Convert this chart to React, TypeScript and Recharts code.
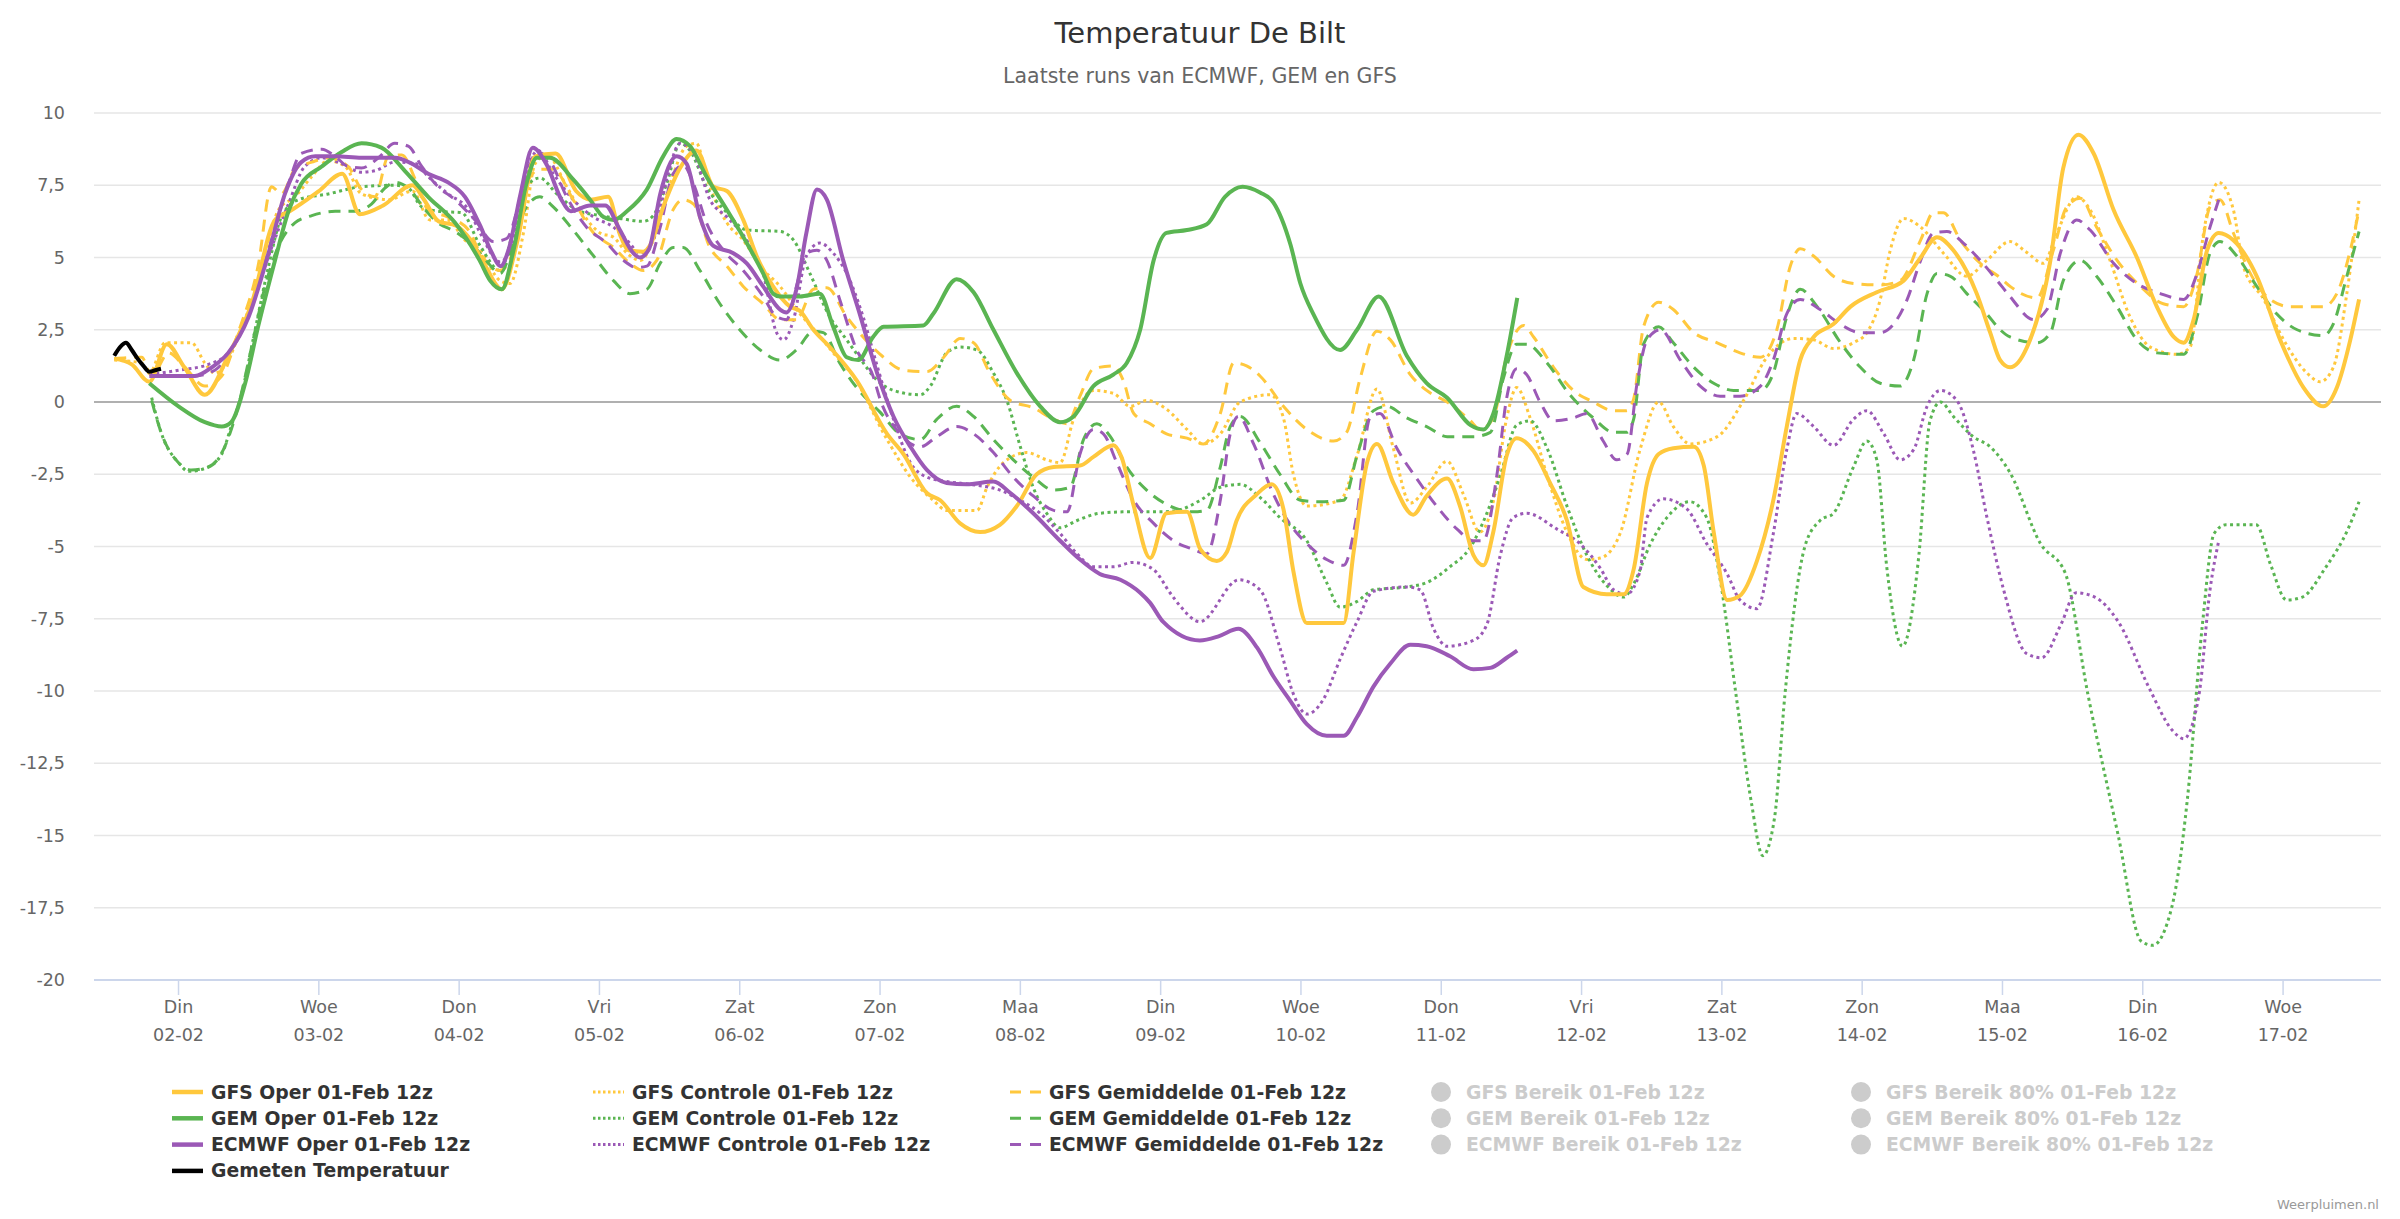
import React from 'react'
import { LineChart, Line, XAxis, YAxis, CartesianGrid, ReferenceLine } from 'recharts'

// uren vanaf 01-02 13:00, waarde in graden
type Punt = [number, number]

const DAGEN = ['Din', 'Woe', 'Don', 'Vri', 'Zat', 'Zon', 'Maa', 'Din', 'Woe', 'Don', 'Vri', 'Zat', 'Zon', 'Maa', 'Din', 'Woe']
const DATUMS = ['02-02', '03-02', '04-02', '05-02', '06-02', '07-02', '08-02', '09-02', '10-02', '11-02', '12-02', '13-02', '14-02', '15-02', '16-02', '17-02']
const TICK_UREN = [11, 35, 59, 83, 107, 131, 155, 179, 203, 227, 251, 275, 299, 323, 347, 371]
const Y_TICKS = [-20, -17.5, -15, -12.5, -10, -7.5, -5, -2.5, 0, 2.5, 5, 7.5, 10]

const GEMETEN: Punt[] = [[0, 1.6], [1, 1.9], [2, 2.05], [3, 1.8], [4, 1.5], [5, 1.25], [6, 1.05], [7, 1.1], [8, 1.15]]

const GFS_OPER: Punt[] = [
  [0, 1.5], [3, 1.3], [6, 0.7], [9, 2.0], [12, 1.2], [15.5, 0.25], [19.5, 1.6], [23.5, 3.4], [27.5, 6.3], [30, 6.6],
  [35, 7.3], [39, 7.9], [42, 6.5], [46, 6.8], [51, 7.5], [53, 7.0], [55.5, 6.25], [58.5, 6.1], [61, 5.6], [63.5, 4.7],
  [66.3, 3.9], [69, 5.6], [72, 8.5], [75.5, 8.6], [79, 7.3], [81.5, 7.0], [84.5, 7.1], [86.5, 5.8], [88, 5.25], [90.5, 5.2],
  [91.6, 5.4], [94, 6.8], [96.8, 8.1], [99.6, 8.7], [102.5, 7.45], [104.8, 7.3], [107.6, 6.3], [110, 5.0], [112.7, 4.0],
  [115.6, 3.3], [117.3, 3.15], [119.6, 2.5], [122.4, 1.9], [127, 0.75], [132.2, -1.1], [135, -1.8], [139, -3.15],
  [141.3, -3.4], [144.7, -4.2], [148.1, -4.5], [151.5, -4.25], [154.4, -3.6], [157.8, -2.5], [160.7, -2.25], [165.2, -2.2],
  [167.5, -1.9], [170.9, -1.5], [172.3, -1.9], [174.4, -3.6], [177.2, -5.4], [180, -3.85], [183.5, -3.8], [185.8, -5.1],
  [188.6, -5.5], [190.3, -5.2], [192, -4.1], [195.4, -3.2], [198, -2.85], [200, -3.7], [201.7, -5.85], [204, -7.65],
  [210.3, -7.65], [212, -5.2], [214.3, -2.1], [216, -1.45], [218.8, -2.8], [222.2, -3.9], [224.5, -3.25], [228, -2.65],
  [230.2, -3.6], [232.5, -5.3], [234.2, -5.65], [235.9, -4.5], [238.2, -1.85], [239.9, -1.25], [242.8, -1.7], [245.6, -2.8],
  [248.5, -4.1], [251.3, -6.4], [255.3, -6.65], [258.2, -6.65], [259.9, -5.8], [262.2, -2.8], [264.2, -1.8], [266.7, -1.6],
  [270.2, -1.55], [271.9, -2.2], [273.6, -4.5], [275.9, -6.85], [278.1, -6.7], [281, -5.5], [283.8, -3.4], [286.1, -0.85],
  [288.4, 1.45], [290.7, 2.25], [294.1, 2.7], [297, 3.3], [301.5, 3.8], [306.1, 4.2], [309, 5.0], [311.8, 5.7], [314.6, 5.25],
  [318.6, 3.75], [320.9, 2.4], [322.6, 1.45], [324.3, 1.2], [327.2, 1.9], [331.2, 4.9], [333.4, 8.1], [336, 9.25],
  [338.6, 8.6], [342, 6.65], [346, 5.0], [349.4, 3.3], [352.3, 2.25], [354, 2.05], [355.7, 2.85], [358, 5.25], [360, 5.85],
  [362.5, 5.6], [366.5, 4.35], [370.5, 2.15], [374.5, 0.5], [377.9, -0.15], [380.2, 0.5], [382.5, 2.15], [384, 3.55],
]

const GEM_OPER: Punt[] = [
  [6, 0.65], [11, -0.15], [15.5, -0.7], [18.4, -0.85], [20, -0.7], [22.4, 0.65], [24.6, 2.6], [27.5, 4.9], [29.8, 6.6],
  [32, 7.55], [35.5, 8.15], [38.9, 8.65], [42.3, 8.95], [45.7, 8.8], [49.7, 8.0], [53.7, 7.1], [58.3, 6.2], [62.5, 4.9],
  [64.3, 4.2], [66.3, 3.9], [68.3, 5.25], [70.5, 7.55], [72.3, 8.45], [74.5, 8.45], [78.5, 7.7], [81.4, 7.0], [83.7, 6.4],
  [85.4, 6.3], [87.7, 6.6], [91.1, 7.35], [93.9, 8.5], [96.2, 9.1], [98.5, 8.85], [101.3, 7.8], [104.8, 6.65], [108.2, 5.5],
  [111, 4.45], [112.7, 3.75], [113.9, 3.65], [117.3, 3.65], [120.7, 3.75], [123, 2.6], [125.3, 1.55], [127.3, 1.45],
  [129.8, 2.25], [131.6, 2.6], [138.4, 2.65], [140.1, 3.05], [144.1, 4.25], [147, 3.8], [150.4, 2.5], [154.4, 1.0],
  [158.4, -0.15], [161.8, -0.7], [164.1, -0.5], [167.5, 0.55], [170.9, 0.95], [173.2, 1.35], [175.5, 2.5], [177.8, 4.9],
  [180, 5.85], [183.5, 5.95], [186.9, 6.15], [190, 7.1], [193, 7.45], [196, 7.25], [198.3, 6.9], [201.2, 5.45], [202.9, 4.1],
  [205.1, 3.05], [209.7, 1.8], [212.6, 2.5], [216.3, 3.65], [221.1, 1.6], [224.5, 0.65], [228, 0.15], [232, -0.8],
  [234.2, -0.95], [235.9, -0.4], [238.2, 1.6], [240, 3.6],
]

const ECMWF_OPER: Punt[] = [
  [6, 0.9], [13.8, 0.9], [16.7, 1.2], [19.5, 1.7], [23, 2.95], [26.4, 5.15], [29.2, 7.2], [32, 8.3], [34.4, 8.5], [37.8, 8.5],
  [42.3, 8.45], [48, 8.45], [50.9, 8.25], [53.7, 7.9], [57.1, 7.6], [60, 7.1], [62.6, 6.1], [64.5, 5.2], [66.1, 4.7],
  [67.5, 5.3], [69.5, 7.2], [71.6, 8.8], [74, 8.2], [76.5, 7.0], [78.1, 6.6], [81.4, 6.8], [84, 6.8], [86.5, 5.95],
  [88.8, 5.15], [89.9, 5.0], [91.5, 5.3], [93.4, 7.2], [96.2, 8.5], [97.9, 8.25], [100.2, 6.4], [102.5, 5.4], [105.9, 5.15],
  [108.2, 4.8], [111, 4.0], [113.9, 3.2], [115, 3.1], [116.7, 3.9], [118.4, 5.85], [120.2, 7.35], [121.9, 7.0], [124.7, 4.9],
  [127.6, 3.0], [130.5, 1.0], [133.3, -0.5], [136.2, -1.55], [139, -2.35], [142.4, -2.8], [145.8, -2.85], [150.4, -2.75],
  [153.3, -3.15], [157.2, -3.85], [161.8, -4.8], [165.2, -5.45], [168.6, -5.95], [172.1, -6.15], [175.5, -6.6],
  [177.2, -6.95], [179.4, -7.6], [185.7, -8.25], [189, -8.1], [192.3, -7.85], [195.5, -8.5], [198.3, -9.5], [201.2, -10.35],
  [204, -11.15], [207.4, -11.55], [210.3, -11.55], [212.6, -10.9], [215.4, -9.85], [218.3, -9.05], [221.7, -8.4],
  [224.5, -8.45], [228.5, -8.8], [232.5, -9.25], [235.4, -9.2], [238.2, -8.85], [240, -8.6],
]

const GFS_CONTROLE: Punt[] = [
  [0, 1.45], [4.7, 1.35], [6, 1.0], [8.7, 2.05], [13.2, 2.05], [15.5, 1.35], [17.2, 1.0], [19.5, 1.45], [21.8, 2.6], [24, 3.75],
  [26.4, 5.6], [28.1, 6.65], [30.9, 7.1], [33.8, 7.8], [36.6, 8.35], [39.5, 8.15], [42.3, 7.2], [47, 7.0], [51, 7.3], [54, 6.3],
  [57, 6.3], [60, 5.6], [62.6, 5.25], [66, 4.2], [67.7, 4.1], [70, 5.85], [72, 8.25], [74, 8.55], [77.4, 7.45], [79.7, 6.65],
  [83.1, 5.85], [85.4, 5.7], [87.7, 5.15], [90, 4.9], [92.2, 5.6], [95.1, 7.55], [97.9, 8.85], [99.6, 8.95], [101.3, 7.8],
  [104.8, 6.2], [107.6, 5.6], [110.5, 4.7], [113.9, 4.0], [117.3, 3.05], [120.2, 2.4], [123, 1.7], [126.4, 0.9],
  [132.2, -1.3], [136.2, -2.6], [140.1, -3.4], [142.4, -3.75], [147.6, -3.75], [149.3, -2.95], [152.1, -2.1], [156.1, -1.75],
  [159.5, -2.0], [161.8, -2.1], [164.1, -0.6], [167.5, 0.4], [170.9, 0.3], [173.8, -0.15], [176.6, 0.05], [180, -0.25],
  [183.5, -0.95], [186.3, -1.45], [189.2, -1.1], [192.6, 0.0], [197.7, 0.25], [200, -0.55], [201.7, -2.5], [204, -3.6],
  [209.7, -3.4], [212.6, -1.85], [216, 0.45], [218.8, -1.6], [221.7, -3.5], [224.5, -2.95], [228, -2.05], [230.8, -3.2],
  [233.6, -4.5], [235.9, -3.45], [238.2, -0.55], [239.9, 0.5], [242.2, -0.55], [245.1, -2.55], [248.5, -4.5], [251.9, -5.45],
  [254.2, -5.4], [257.6, -4.55], [261, -1.65], [264.2, 0.0], [266.7, -0.85], [269.6, -1.45], [274.2, -1.2], [278.7, 0.05],
  [282.7, 1.55], [287.3, 2.2], [290.7, 2.15], [294.1, 1.85], [297.5, 2.05], [299.8, 2.4], [302.1, 3.55], [303.8, 5.25],
  [306.1, 6.35], [309, 6.05], [312.9, 5.15], [316.9, 4.35], [320.3, 4.9], [324.3, 5.55], [327, 5.2], [330, 4.8], [332.3, 5.85],
  [335.7, 7.1], [338, 6.65], [341.4, 4.9], [344.8, 2.95], [348.3, 1.9], [352.8, 1.65], [355.1, 1.9], [357.4, 5.85], [360, 7.6],
  [362.5, 6.65], [364.2, 4.7], [367.7, 3.55], [371.1, 2.15], [375.1, 1.0], [377.3, 0.7], [379.6, 1.2], [381.9, 3.75], [384, 7.0],
]

const GEM_CONTROLE: Punt[] = [
  [6.4, 0.15], [8.1, -1.1], [11, -2.1], [12.7, -2.4], [15.5, -2.3], [18.4, -1.8], [20, -0.85], [21.8, 0.3], [24, 2.4],
  [26.4, 4.7], [28.6, 6.4], [31.5, 7.0], [36.6, 7.2], [42.3, 7.45], [48, 7.5], [50.3, 7.4], [52.6, 6.75], [55.4, 6.6],
  [59.4, 6.55], [62.6, 5.4], [66, 4.55], [68.3, 5.95], [70.5, 7.45], [72.8, 7.75], [75.7, 7.2], [79.1, 6.65], [83.1, 6.45],
  [86.5, 6.35], [90.5, 6.25], [92.2, 6.45], [94.5, 7.55], [96.8, 8.95], [98.5, 8.7], [101.3, 7.45], [104.8, 6.55], [108.2, 5.95],
  [113.9, 5.9], [116.2, 5.6], [119, 4.45], [122.4, 2.95], [125.3, 2.15], [127.6, 1.5], [130.5, 0.75], [133.3, 0.4],
  [137.9, 0.25], [139.6, 0.55], [142.4, 1.7], [144.7, 1.9], [147.6, 1.8], [150.4, 1.0], [152.7, 0.05], [155, -1.55],
  [157.2, -2.95], [159.5, -3.85], [161.8, -4.35], [164.7, -4.1], [168.6, -3.85], [173.2, -3.8], [178.9, -3.8], [181.8, -3.75],
  [185.8, -3.4], [189.2, -2.95], [192.6, -2.85], [196, -3.3], [199.4, -4.0], [204, -4.8], [207.4, -6.25], [209.7, -7.1],
  [212.6, -6.9], [215.4, -6.5], [221.1, -6.4], [224.5, -6.25], [228.5, -5.7], [231.9, -5.05], [234.8, -3.85], [237.1, -2.55],
  [239.9, -0.8], [242.2, -0.65], [245.1, -1.6], [248.5, -3.6], [251.9, -5.3], [255.3, -6.35], [258.2, -6.75], [259.9, -6.3],
  [262.8, -4.9], [265.6, -4.0], [269.5, -3.45], [272.4, -4.0], [274.8, -6.25], [277.4, -10.1], [280, -13.8], [282, -15.7],
  [284, -14.4], [285.8, -10.1], [289.2, -5.0], [291.8, -4.1], [294.1, -3.85], [297.5, -2.25], [299.8, -1.35], [301.5, -2.0],
  [303.2, -5.7], [305.9, -8.45], [308.7, -5.3], [310.6, -0.65], [312.4, 0.0], [314.6, -0.5], [318, -1.2], [320.9, -1.55],
  [324.3, -2.45], [329.5, -4.9], [333.7, -5.9], [337.6, -10.1], [342.8, -15.0], [346.7, -18.65], [348.7, -18.8],
  [352, -17.45], [354.6, -13.8], [357.2, -7.7], [359.2, -4.55], [361.2, -4.25], [366.4, -4.25], [368.9, -5.65],
  [371.6, -6.85], [374.3, -6.75], [378.2, -5.75], [382.1, -4.4], [384, -3.45],
]

const ECMWF_CONTROLE: Punt[] = [
  [6.1, 0.95], [11, 1.1], [16.1, 1.3], [19.5, 1.7], [23, 3.05], [26.4, 5.05], [29.8, 6.85], [32.6, 8.15], [35.5, 8.45],
  [38.9, 8.25], [42.3, 7.95], [44.6, 8.0], [48, 8.3], [51.5, 8.25], [53.7, 7.8], [57.1, 7.2], [60.6, 6.65], [62.6, 5.85],
  [66, 4.85], [68.3, 5.6], [70.5, 7.9], [72.5, 8.7], [75.1, 7.9], [78.5, 7.0], [82, 6.4], [85.4, 6.05], [87.7, 5.6], [90, 5.15],
  [92.2, 5.6], [94.5, 7.7], [96.8, 8.95], [99.1, 8.6], [101.9, 7.0], [104.8, 6.4], [108.2, 5.6], [111, 4.45], [113.3, 2.4],
  [114.5, 2.15], [116.2, 2.85], [118.4, 5.05], [120.7, 5.5], [123, 5.15], [125.3, 4.45], [128.1, 2.95], [130.5, 1.25],
  [133.3, -0.6], [136.2, -2.1], [139, -2.6], [142.4, -2.75], [146.4, -2.85], [151.5, -3.05], [155, -3.4], [158.4, -3.85],
  [161.8, -4.55], [164.7, -5.25], [167.5, -5.7], [170.9, -5.7], [174.3, -5.55], [177.8, -5.8], [180.6, -6.6], [182.3, -7.05],
  [185.7, -7.6], [192.4, -6.15], [196, -6.5], [199.4, -8.5], [201.7, -10.1], [204, -10.8], [206.8, -10.3], [209.7, -8.9],
  [212.6, -7.6], [215.4, -6.55], [221.1, -6.4], [223.4, -6.5], [225.7, -7.85], [228, -8.45], [232.5, -8.25], [234.8, -7.7],
  [237.1, -5.3], [239.3, -4.0], [241.6, -3.85], [246.8, -4.4], [250.7, -4.9], [254.2, -5.75], [256.5, -6.5], [258.7, -6.65],
  [261, -5.85], [262.2, -4.0], [265, -3.35], [269, -3.7], [272.4, -4.9], [275.9, -5.95], [278.1, -6.85], [281, -7.15],
  [283.8, -4.55], [286.1, -1.65], [287.8, -0.4], [290.7, -0.85], [294.1, -1.5], [297.5, -0.6], [299.8, -0.3], [302.7, -1.1],
  [305.5, -2.0], [307.8, -1.65], [310.1, -0.15], [312.4, 0.4], [315.2, 0.05], [318, -1.65], [320.3, -3.95], [323.2, -6.5],
  [327.1, -8.7], [329.7, -8.85], [333, -7.7], [335.6, -6.6], [338.8, -6.75], [342.8, -7.6], [348.1, -9.9], [352, -11.35],
  [354, -11.65], [356.6, -10.15], [358.5, -6.5], [360, -4.8],
]

const GFS_GEMIDDELDE: Punt[] = [
  [0, 1.5], [4.7, 1.55], [6.4, 0.9], [9.3, 1.7], [12.1, 1.2], [15.5, 0.55], [18.4, 0.9], [21.2, 2.4], [24.6, 4.7], [26.9, 7.45],
  [28.6, 7.2], [30.9, 8.05], [33.8, 8.3], [36.6, 8.45], [40, 8.15], [42.3, 7.35], [44.6, 7.1], [46.9, 8.5], [49.2, 8.55],
  [51.5, 7.7], [53.7, 6.65], [57.1, 6.4], [60.6, 5.95], [62.6, 5.15], [66, 4.55], [68.3, 5.25], [70.5, 7.55], [72.8, 8.05],
  [75.1, 8.05], [78.5, 7.0], [82, 5.85], [85.4, 5.35], [88.2, 4.8], [90.5, 4.55], [92.8, 4.9], [95.6, 6.65], [97.3, 7.0],
  [99.1, 6.85], [101.9, 5.35], [104.8, 4.7], [107.6, 4.0], [111, 3.4], [113.9, 2.85], [116.7, 2.85], [119.6, 3.9],
  [121.9, 3.95], [125.3, 2.95], [128.1, 2.25], [131.3, 1.6], [135, 1.1], [139, 1.05], [141.9, 1.55], [144.7, 2.2], [147, 2.05],
  [149.8, 1.0], [153.3, 0.05], [157.2, -0.2], [160.7, -0.6], [163, -0.75], [165.2, 0.2], [167.5, 1.15], [170.9, 1.25],
  [172.6, 0.75], [174.4, -0.4], [177.2, -0.75], [180, -1.1], [183.5, -1.25], [186.3, -1.45], [189.2, -0.4], [191.5, 1.35],
  [193.7, 1.25], [196, 0.9], [200, -0.15], [204, -0.95], [208.6, -1.35], [210.8, -1.05], [213.1, 0.8], [216, 2.45],
  [218.3, 2.15], [221.7, 0.95], [224.5, 0.4], [228, 0.0], [232, -0.65], [233.6, -0.95], [235.9, -0.55], [238.2, 1.6],
  [241.1, 2.65], [242.8, 2.25], [246.2, 1.2], [249.6, 0.4], [253, 0.0], [256.5, -0.3], [258.7, -0.3], [259.9, 0.1],
  [261.6, 2.6], [264.2, 3.45], [266.7, 3.2], [270.2, 2.4], [274.2, 2.05], [278.1, 1.7], [281.6, 1.55], [284.4, 2.5],
  [286.7, 4.7], [288.4, 5.3], [290.7, 5.05], [294.1, 4.35], [297.5, 4.1], [302.1, 4.05], [305.5, 4.2], [309, 5.6],
  [311.2, 6.55], [312.9, 6.55], [315.8, 5.6], [319.2, 4.8], [322.6, 4.3], [324.3, 4.0], [328.9, 3.6], [331.7, 5.25],
  [334, 6.75], [336.3, 7.05], [339.1, 6.05], [342.6, 4.9], [346.6, 4.0], [350.5, 3.4], [354, 3.3], [356.3, 4.45], [358.5, 6.75],
  [360.2, 7.0], [362.5, 5.85], [365.4, 4.45], [368.8, 3.55], [372.2, 3.3], [377.9, 3.3], [380.2, 3.75], [382.5, 5.25], [384, 6.65],
]

const GEM_GEMIDDELDE: Punt[] = [
  [6.4, 0.05], [8.1, -1.1], [11, -2.1], [13.2, -2.35], [16.1, -2.25], [18.9, -1.55], [21.2, -0.15], [23.5, 1.9], [25.8, 4.0],
  [28, 5.35], [30.9, 6.2], [33.8, 6.45], [37.8, 6.6], [41.2, 6.6], [44, 6.85], [46.3, 7.4], [48, 7.6], [50.3, 7.4], [53.2, 6.65],
  [55.4, 6.2], [58.3, 5.9], [61.7, 5.35], [64, 4.8], [66, 4.45], [68.3, 5.5], [70.5, 6.75], [72.8, 7.1], [75.1, 6.75],
  [78.5, 5.95], [82, 5.05], [85.4, 4.2], [88.2, 3.75], [91.1, 3.9], [93.4, 4.8], [95.6, 5.35], [97.3, 5.35], [100.2, 4.55],
  [103.6, 3.4], [107, 2.5], [110.5, 1.8], [113.9, 1.45], [116.7, 1.8], [119.6, 2.45], [121.3, 2.4], [124.1, 1.35], [127.6, 0.35],
  [131, -0.35], [134.4, -1.1], [137.9, -1.3], [140.7, -0.6], [144.1, -0.15], [147, -0.5], [150.4, -1.3], [153.8, -2.0],
  [157.2, -2.6], [160.7, -3.05], [163.5, -2.95], [165.8, -1.3], [168.1, -0.75], [170.4, -1.2], [173.2, -2.25], [176.6, -3.05],
  [180.6, -3.6], [184.6, -3.8], [186.9, -3.75], [189.2, -2.25], [190.9, -0.85], [192.6, -0.5], [196, -1.4], [199.4, -2.5],
  [202.9, -3.4], [206.3, -3.45], [210.3, -3.4], [212.6, -1.85], [215.4, -0.3], [217.7, -0.15], [221.1, -0.55], [224.5, -0.85],
  [228, -1.2], [232.5, -1.2], [235.4, -1.05], [237.6, 0.8], [239.9, 2.0], [241.6, 2.0], [245.1, 1.35], [249, 0.25],
  [253, -0.55], [256.5, -1.05], [258.7, -1.05], [259.9, -0.6], [261.6, 2.0], [264.2, 2.6], [266.7, 2.05], [270.2, 1.2],
  [273.6, 0.65], [277, 0.4], [281.6, 0.4], [283.8, 1.0], [286.1, 2.95], [288.4, 3.9], [291.3, 3.3], [295.3, 2.05],
  [298.7, 1.2], [302.1, 0.65], [305.5, 0.55], [307.8, 1.45], [310.1, 3.75], [311.8, 4.45], [314.1, 4.35], [316.9, 3.75],
  [320.3, 3.05], [322.6, 2.5], [324.3, 2.25], [328.9, 2.05], [331.2, 2.4], [333.4, 4.2], [336.3, 4.9], [339.1, 4.35],
  [342.6, 3.3], [346, 2.15], [349.4, 1.7], [354, 1.65], [356.3, 2.95], [358.5, 5.15], [360.2, 5.55], [363.1, 5.05],
  [366.5, 4.0], [369.9, 3.05], [373.4, 2.5], [377.9, 2.3], [379.6, 2.7], [381.9, 4.35], [384, 5.9],
]

const ECMWF_GEMIDDELDE: Punt[] = [
  [6.4, 0.9], [13.8, 0.9], [17.2, 1.1], [20.1, 1.8], [23.5, 3.3], [26.9, 5.6], [29.8, 7.55], [32, 8.6], [35.5, 8.75], [37.8, 8.5],
  [40, 8.15], [42.3, 8.1], [45.2, 8.45], [48, 8.95], [50.3, 8.85], [52.6, 8.15], [55.4, 7.45], [58.3, 7.0], [61.7, 6.3],
  [64.9, 5.55], [67.1, 5.65], [70, 7.45], [72.3, 8.65], [74.5, 8.35], [77.4, 7.1], [80.8, 6.05], [84.2, 5.5], [87.1, 4.9],
  [89.4, 4.65], [91.1, 4.7], [93.4, 6.05], [95.6, 7.9], [97.3, 8.2], [99.1, 7.55], [101.3, 6.2], [104.2, 5.25], [107.6, 4.55],
  [111, 3.65], [113.3, 2.95], [115, 2.85], [116.7, 4.0], [118.4, 5.15], [120.2, 5.25], [121.9, 4.9], [124.1, 3.55], [127, 1.8],
  [129.8, 0.9], [131, 0.1], [134.4, -1.1], [137.9, -1.55], [140.7, -1.2], [144.1, -0.85], [147, -1.1], [150.4, -1.75],
  [153.8, -2.6], [157.2, -3.25], [160.7, -3.75], [163, -3.8], [165.2, -1.8], [167.5, -0.95], [169.2, -1.1], [171.5, -2.1],
  [174.4, -3.4], [177.8, -4.2], [181.2, -4.8], [184.6, -5.1], [186.9, -5.25], [189.2, -3.4], [190.9, -1.1], [192.3, -0.5],
  [194.9, -1.45], [198.3, -3.2], [201.2, -4.25], [204, -4.9], [207.4, -5.45], [210.3, -5.65], [212.6, -3.85], [214.8, -0.55],
  [216.5, -0.4], [219.4, -1.6], [222.8, -2.65], [226.2, -3.6], [229.7, -4.4], [232.5, -4.8], [234.2, -4.8], [236.5, -2.55],
  [238.2, 0.15], [239.9, 1.15], [241.6, 0.95], [243.9, 0.0], [246.2, -0.65], [249.6, -0.55], [251.9, -0.4], [254.7, -1.35],
  [257, -2.0], [258.8, -1.8], [260.5, 0.65], [262.2, 2.15], [264.5, 2.5], [267.9, 1.45], [271.3, 0.55], [274.7, 0.2],
  [278.1, 0.2], [281.6, 0.55], [283.8, 1.45], [286.1, 3.05], [288.4, 3.55], [291.8, 3.2], [295.2, 2.7], [298.7, 2.4],
  [302.1, 2.4], [304.4, 2.7], [306.7, 3.55], [309, 4.9], [311.2, 5.85], [313.5, 5.9], [316.3, 5.5], [319.2, 4.9], [322.1, 4.2],
  [324.3, 3.65], [328.3, 2.85], [330.6, 3.2], [332.9, 5.15], [335.7, 6.3], [338, 5.95], [342, 4.8], [346, 4.1], [350, 3.75],
  [354, 3.55], [356.3, 4.45], [358.5, 6.05], [360, 7.0],
]

const GEEL = '#ffc83d'
const GROEN = '#5ab552'
const PAARS = '#9b59b6'
const FONT = '"DejaVu Sans", Arial, sans-serif'

const STIP = '3 3.5'
const STREEP = '12 8'

const naarPunten = (reeks: Punt[]) => reeks.map(([h, v]) => ({ h, v }))

function DagTick(props: any) {
  const { x, payload } = props
  const i = TICK_UREN.indexOf(payload.value)
  return (
    <g>
      <text x={x} y={1013} textAnchor="middle" fill="#666" fontSize={17.5}>{DAGEN[i]}</text>
      <text x={x} y={1041} textAnchor="middle" fill="#666" fontSize={17.5}>{DATUMS[i]}</text>
    </g>
  )
}

function GradenTick(props: any) {
  const { y, payload } = props
  return (
    <text x={65} y={y + 6} textAnchor="end" fill="#666" fontSize={17.5}>
      {String(payload.value).replace('.', ',')}
    </text>
  )
}

interface LegendaItem {
  naam: string
  kleur: string
  soort: 'lijn' | 'stip' | 'streep' | 'uit'
}

const LEGENDA_KOLOMMEN: { x: number; items: LegendaItem[] }[] = [
  {
    x: 172,
    items: [
      { naam: 'GFS Oper 01-Feb 12z', kleur: GEEL, soort: 'lijn' },
      { naam: 'GEM Oper 01-Feb 12z', kleur: GROEN, soort: 'lijn' },
      { naam: 'ECMWF Oper 01-Feb 12z', kleur: PAARS, soort: 'lijn' },
      { naam: 'Gemeten Temperatuur', kleur: '#000', soort: 'lijn' },
    ],
  },
  {
    x: 593,
    items: [
      { naam: 'GFS Controle 01-Feb 12z', kleur: GEEL, soort: 'stip' },
      { naam: 'GEM Controle 01-Feb 12z', kleur: GROEN, soort: 'stip' },
      { naam: 'ECMWF Controle 01-Feb 12z', kleur: PAARS, soort: 'stip' },
    ],
  },
  {
    x: 1010,
    items: [
      { naam: 'GFS Gemiddelde 01-Feb 12z', kleur: GEEL, soort: 'streep' },
      { naam: 'GEM Gemiddelde 01-Feb 12z', kleur: GROEN, soort: 'streep' },
      { naam: 'ECMWF Gemiddelde 01-Feb 12z', kleur: PAARS, soort: 'streep' },
    ],
  },
  {
    x: 1430,
    items: [
      { naam: 'GFS Bereik 01-Feb 12z', kleur: '#ccc', soort: 'uit' },
      { naam: 'GEM Bereik 01-Feb 12z', kleur: '#ccc', soort: 'uit' },
      { naam: 'ECMWF Bereik 01-Feb 12z', kleur: '#ccc', soort: 'uit' },
    ],
  },
  {
    x: 1850,
    items: [
      { naam: 'GFS Bereik 80% 01-Feb 12z', kleur: '#ccc', soort: 'uit' },
      { naam: 'GEM Bereik 80% 01-Feb 12z', kleur: '#ccc', soort: 'uit' },
      { naam: 'ECMWF Bereik 80% 01-Feb 12z', kleur: '#ccc', soort: 'uit' },
    ],
  },
]

function Symbool({ x, y, item }: { x: number; y: number; item: LegendaItem }) {
  if (item.soort === 'uit') return <circle cx={x + 11} cy={y} r={10} fill="#ccc" />
  if (item.soort === 'lijn') return <line x1={x} x2={x + 31} y1={y} y2={y} stroke={item.kleur} strokeWidth={4.5} />
  if (item.soort === 'stip')
    return <line x1={x} x2={x + 31} y1={y} y2={y} stroke={item.kleur} strokeWidth={3} strokeDasharray="2.5 2.5" />
  return <line x1={x} x2={x + 31} y1={y} y2={y} stroke={item.kleur} strokeWidth={3} strokeDasharray="11 9" />
}

export default function App() {
  return (
    <div style={{ position: 'absolute', left: 0, top: 0, width: 2400, height: 1219, background: '#fff', fontFamily: FONT }}>
      <LineChart width={2400} height={1219} margin={{ top: 113, right: 19, bottom: 179, left: 0 }}>
        <CartesianGrid horizontal vertical={false} stroke="#e6e6e6" strokeWidth={1.5} />
        <XAxis
          type="number"
          dataKey="h"
          domain={[-3.46, 387.75]}
          ticks={TICK_UREN}
          allowDataOverflow
          height={60}
          tick={<DagTick />}
          tickSize={15}
          tickLine={{ stroke: '#ccd6eb', strokeWidth: 1.5 }}
          axisLine={{ stroke: '#ccd6eb', strokeWidth: 2 }}
          interval={0}
        />
        <YAxis
          type="number"
          domain={[-20, 10]}
          ticks={Y_TICKS}
          width={94}
          axisLine={false}
          tickLine={false}
          tick={<GradenTick />}
          interval={0}
        />
        <ReferenceLine y={0} stroke="#b0b0b0" strokeWidth={2} />

        <Line data={naarPunten(GFS_CONTROLE)} dataKey="v" type="monotone" stroke={GEEL} strokeWidth={3} strokeDasharray={STIP} dot={false} activeDot={false} isAnimationActive={false} />
        <Line data={naarPunten(GEM_CONTROLE)} dataKey="v" type="monotone" stroke={GROEN} strokeWidth={3} strokeDasharray={STIP} dot={false} activeDot={false} isAnimationActive={false} />
        <Line data={naarPunten(ECMWF_CONTROLE)} dataKey="v" type="monotone" stroke={PAARS} strokeWidth={3} strokeDasharray={STIP} dot={false} activeDot={false} isAnimationActive={false} />
        <Line data={naarPunten(GFS_GEMIDDELDE)} dataKey="v" type="monotone" stroke={GEEL} strokeWidth={3} strokeDasharray={STREEP} dot={false} activeDot={false} isAnimationActive={false} />
        <Line data={naarPunten(GEM_GEMIDDELDE)} dataKey="v" type="monotone" stroke={GROEN} strokeWidth={3} strokeDasharray={STREEP} dot={false} activeDot={false} isAnimationActive={false} />
        <Line data={naarPunten(ECMWF_GEMIDDELDE)} dataKey="v" type="monotone" stroke={PAARS} strokeWidth={3} strokeDasharray={STREEP} dot={false} activeDot={false} isAnimationActive={false} />
        <Line data={naarPunten(GFS_OPER)} dataKey="v" type="monotone" stroke={GEEL} strokeWidth={4} dot={false} activeDot={false} isAnimationActive={false} />
        <Line data={naarPunten(GEM_OPER)} dataKey="v" type="monotone" stroke={GROEN} strokeWidth={4} dot={false} activeDot={false} isAnimationActive={false} />
        <Line data={naarPunten(ECMWF_OPER)} dataKey="v" type="monotone" stroke={PAARS} strokeWidth={4} dot={false} activeDot={false} isAnimationActive={false} />
        <Line data={naarPunten(GEMETEN)} dataKey="v" type="monotone" stroke="#000" strokeWidth={4} dot={false} activeDot={false} isAnimationActive={false} />
      </LineChart>

      <svg width={2400} height={1219} style={{ position: 'absolute', left: 0, top: 0, pointerEvents: 'none' }} fontFamily={FONT}>
        <text x={1200} y={43} textAnchor="middle" fontSize={29} fill="#333">Temperatuur De Bilt</text>
        <text x={1200} y={83} textAnchor="middle" fontSize={20.5} fill="#666">Laatste runs van ECMWF, GEM en GFS</text>
        {LEGENDA_KOLOMMEN.map((kol) =>
          kol.items.map((item, r) => {
            const yMidden = 1092 + r * 26.3
            return (
              <g key={item.naam}>
                <Symbool x={kol.x} y={yMidden} item={item} />
                <text
                  x={kol.x + (item.soort === 'uit' ? 36 : 39)}
                  y={yMidden + 6.5}
                  fontSize={18.8}
                  fontWeight="bold"
                  fill={item.soort === 'uit' ? '#ccc' : '#333'}
                >
                  {item.naam}
                </text>
              </g>
            )
          })
        )}
        <text x={2379} y={1209} textAnchor="end" fontSize={13} fill="#999">Weerpluimen.nl</text>
      </svg>
    </div>
  )
}
